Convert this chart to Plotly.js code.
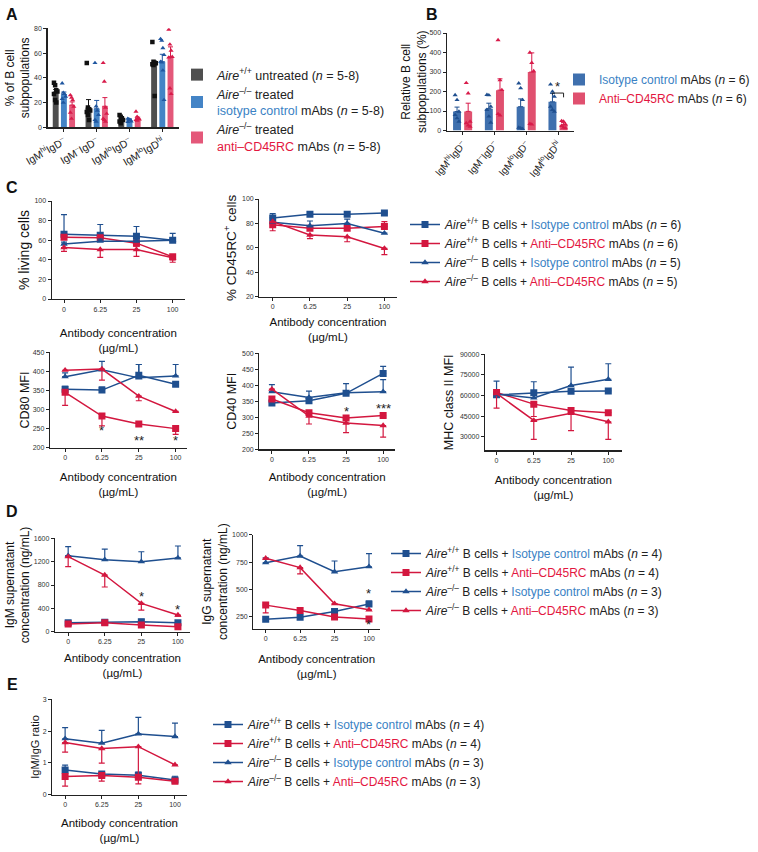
<!DOCTYPE html>
<html><head><meta charset="utf-8">
<script src="https://cdn.plot.ly/plotly-3.0.1.min.js"></script>
<style>html,body{margin:0;padding:0;background:#fff}#chart{width:758px;height:852px}</style>
</head><body><div id="chart"></div>
<script>
// ---------------- DATA ----------------
const subsetLabels = ['IgM<sup>hi</sup>IgD<sup>–</sup>', 'IgM<sup>–</sup>IgD<sup>–</sup>', 'IgM<sup>lo</sup>IgD<sup>–</sup>', 'IgM<sup>lo</sup>IgD<sup>hi</sup>'];
const concLabels = ['0', '6.25', '25', '100'];

// Panel A (% of B cell subpopulations)
const aUntreatedMean = [28.5, 16, 6.5, 52];
const aUntreatedSem  = [2, 6.4, 1.5, 1.6];
const aIsoMean       = [26.5, 15, 6, 53];
const aIsoSem        = [2, 6.7, 0.8, 6];
const aAntiMean      = [18, 17, 7, 57];
const aAntiSem       = [2.5, 7, 1.2, 8];
const aUntreatedPts  = [[36, 34, 30, 29, 27, 22, 20], [52, 16, 14.5, 13.5, 12.4, 10, 6], [10, 8.6, 7.3, 6, 4.6, 3.2], [69, 53, 52, 51.7, 51, 50.4, 25.3]];
const aIsoPts        = [[35.6, 28, 27, 24.8, 23, 20], [52, 17, 13.5, 10, 6, 4.6], [7, 6.5, 6, 4.8, 4.3], [71.4, 70, 64, 58.5, 53, 52.5, 46, 22.1]];
const aAntiPts       = [[26, 24, 22, 16.7, 11.9, 7], [52, 37, 16, 11, 7, 6, 4.5], [12.7, 8.6, 7.3, 6.5, 6, 5.4], [79, 67, 62, 57, 56.5, 31.5, 27]];

// Panel B (relative B cell subpopulations, %)
const bIsoMean  = [97, 112, 122, 147];
const bIsoSem   = [23, 28, 40, 43];
const bAntiMean = [98, 207, 300, 30];
const bAntiSem  = [42, 58, 98, 10];
const bIsoPts   = [[182, 157, 97, 80, 63, 46], [183, 181, 123, 106, 72, 41], [242, 217, 157, 15, 12, 8], [236, 200, 174, 123, 106, 97]];
const bAntiPts  = [[244, 191, 46, 38, 26, 20], [464, 259, 208, 85, 78], [400, 347, 305, 34, 31], [49, 46, 32, 24, 15, 12]];

// Series order in line panels: Aire+/+ iso, Aire+/+ anti, Aire-/- iso, Aire-/- anti
const livingMean = [[66, 65, 64, 60], [63, 62.5, 57, 43], [56, 59, 59, 60], [52.5, 50.5, 50.5, 42]];
const livingUp   = [[20, 11, 10, 7], [1, 1, 1, 1], [2, 2, 2, 2], [0, 0, 0, 0]];
const livingDn   = [[0, 0, 0, 0], [2, 2, 3, 3], [0, 0, 0, 0], [4, 8, 7, 4.5]];

const cd45Mean = [[84.5, 87.5, 87.5, 88.5], [79, 76, 76, 77.5], [81, 78, 80, 72], [81.5, 70.5, 69, 59.5]];
const cd45Up   = [[3.5, 2, 2, 1], [0, 0, 0, 4], [0, 4, 3.5, 0], [0, 0, 0, 0]];
const cd45Dn   = [[0, 0, 0, 0], [5, 0, 0, 0], [0, 0, 0, 0], [0, 3, 4, 5]];

const cd80Mean = [[353, 351, 390, 366], [345, 283, 262, 250], [386, 404, 383, 388], [403, 406, 335, 295]];
const cd80Up   = [[8, 8, 28, 5], [0, 0, 4, 0], [10, 22, 35, 30], [0, 0, 0, 0]];
const cd80Dn   = [[8, 5, 8, 5], [34, 26, 5, 15], [0, 0, 0, 0], [0, 29, 12, 0]];

const cd40Mean = [[345, 352, 375, 437], [357, 314, 298, 306], [380, 362, 377, 380], [388, 304, 282, 274]];
const cd40Up   = [[0, 0, 0, 22], [0, 0, 0, 0], [22, 20, 28, 38], [0, 0, 0, 0]];
const cd40Dn   = [[0, 0, 0, 0], [5, 5, 5, 5], [0, 0, 0, 0], [0, 25, 30, 36]];

const mhcMean = [[60500, 62000, 63000, 63300], [62200, 53700, 49000, 47500], [61000, 58200, 67200, 71800], [61500, 41800, 47000, 40800]];
const mhcUp   = [[10000, 8000, 0, 0], [0, 0, 0, 0], [0, 0, 13500, 11300], [0, 0, 0, 0]];
const mhcDn   = [[0, 0, 0, 0], [11400, 9000, 0, 0], [0, 0, 0, 0], [0, 13800, 12600, 12800]];

const igmMean = [[154, 160, 171, 154], [131, 154, 114, 86], [1303, 1234, 1200, 1263], [1285, 971, 485, 286]];
const igmUp   = [[30, 30, 40, 30], [0, 0, 0, 0], [153, 180, 170, 205], [0, 0, 0, 0]];
const igmDn   = [[0, 0, 0, 0], [20, 20, 20, 20], [0, 0, 0, 0], [170, 205, 115, 20]];

const iggMean = [[229, 247, 299, 369], [358, 308, 250, 232], [745, 805, 662, 708], [785, 700, 371, 315]];
const iggUp   = [[0, 0, 20, 25], [0, 0, 0, 0], [45, 95, 98, 120], [0, 0, 0, 0]];
const iggDn   = [[0, 0, 0, 0], [70, 0, 10, 0], [0, 0, 0, 0], [0, 58, 0, 0]];

const ratioMean = [[0.78, 0.65, 0.61, 0.46], [0.57, 0.6, 0.55, 0.42], [1.76, 1.62, 1.91, 1.83], [1.64, 1.45, 1.51, 0.94]];
const ratioUp   = [[0.15, 0.05, 0.1, 0.12], [0, 0, 0, 0], [0.35, 0.4, 0.52, 0.42], [0, 0, 0, 0]];
const ratioDn   = [[0, 0, 0, 0], [0.3, 0.17, 0.21, 0.04], [0, 0, 0, 0], [0.3, 0.46, 0.91, 0]];

const nC = [6, 6, 5, 5];
const nD = [4, 4, 3, 3];
const nE = [4, 4, 3, 3];

// significance marks: [concentration index, value level, label]
const sigCD80 = [[1, 244, '*'], [2, 218, '**'], [3, 218, '*']];
const sigCD40 = [[2, 318, '*'], [3, 326, '***']];
const sigIgM  = [[2, 600, '*'], [3, 388, '*']];
const sigIgG  = [[3, 462, '*'], [3, 180, '*']];
const sigB    = [[3, 228, '*']];

// ---------------- STYLE ----------------
const FONT = 'Liberation Sans, Arial, Helvetica, sans-serif';
const W = 758, H = 852;
const BLUE = '#1f4f8f', RED = '#d3173f';
const BLUE_TXT = '#3a82c4', RED_TXT = '#e3173f';
const styles = [
  {color: BLUE, symbol: 'square', size: 7},
  {color: RED, symbol: 'square', size: 7},
  {color: BLUE, symbol: 'triangle-up', size: 6.5},
  {color: RED, symbol: 'triangle-up', size: 6.5}
];
const genos = ['<i>Aire</i><sup>+/+</sup>', '<i>Aire</i><sup>+/+</sup>', '<i>Aire</i><sup>–/–</sup>', '<i>Aire</i><sup>–/–</sup>'];
const treats = [
  `<span style="color:${BLUE_TXT}">Isotype control</span>`,
  `<span style="color:${RED_TXT}">Anti–CD45RC</span>`,
  `<span style="color:${BLUE_TXT}">Isotype control</span>`,
  `<span style="color:${RED_TXT}">Anti–CD45RC</span>`
];
const seriesName = (i, n) => `${genos[i]} B cells + ${treats[i]} mAbs (<i>n</i> = ${n[i]})`;

const xd = (l, r) => [l / W, r / W];
const yd = (t, b) => [1 - b / H, 1 - t / H];

const axBase = {
  showline: true, linecolor: '#222', linewidth: 1.2, ticks: 'outside', ticklen: 3, tickwidth: 1,
  tickcolor: '#222', showgrid: false, zeroline: false, fixedrange: true, automargin: true,
  tickfont: {size: 7, color: '#333', family: FONT}
};
const xTitle = (so) => ({text: 'Antibody concentration<br>(µg/mL)', font: {size: 11.5, family: FONT, color: '#111'}, standoff: so});

const traces = [];
const layout = {
  width: W, height: H, margin: {l: 0, r: 0, t: 0, b: 0, autoexpand: false}, paper_bgcolor: '#fff', plot_bgcolor: 'rgba(0,0,0,0)',
  font: {family: FONT, color: '#111'}, barmode: 'overlay', showlegend: true, annotations: [], shapes: []
};

// ---------------- PANEL A ----------------
const aIdx = subsetLabels.map((_, i) => i);
const aGroups = [
  {mean: aUntreatedMean, sem: aUntreatedSem, pts: aUntreatedPts, fill: '#4f4f4f', dot: '#111', sym: 'square', off: -0.25,
   name: '<i>Aire</i><sup>+/+</sup> untreated (<i>n</i> = 5-8)'},
  {mean: aIsoMean, sem: aIsoSem, pts: aIsoPts, fill: '#4484c6', dot: '#1f56a0', sym: 'triangle-up', off: 0,
   name: `<i>Aire</i><sup>–/–</sup> treated<br><span style="color:${BLUE_TXT}">isotype control</span> mAbs (<i>n</i> = 5-8)`},
  {mean: aAntiMean, sem: aAntiSem, pts: aAntiPts, fill: '#e4587a', dot: '#d81b4a', sym: 'triangle-up', off: 0.25,
   name: `<i>Aire</i><sup>–/–</sup> treated<br><span style="color:${RED_TXT}">anti–CD45RC</span> mAbs (<i>n</i> = 5-8)`}
];
const aBarW = 0.18;
aGroups.forEach(g => {
  traces.push({type: 'bar', x: aIdx, y: g.mean, xaxis: 'x', yaxis: 'y', offset: g.off - aBarW / 2, width: aBarW,
    marker: {color: g.fill, line: {width: 0}}, name: g.name, legend: 'legend',
    error_y: {type: 'data', symmetric: false, array: g.sem, arrayminus: g.sem.map(() => 0), color: g.dot, thickness: 1, width: 2.5}});
  const xs = [], ys = [];
  g.pts.forEach((arr, i) => arr.forEach((v, k) => { xs.push(i + g.off + ((k % 4) - 1.5) * 0.035); ys.push(v); }));
  traces.push({type: 'scatter', mode: 'markers', x: xs, y: ys, xaxis: 'x', yaxis: 'y', showlegend: false,
    marker: {color: g.dot, symbol: g.sym, size: 4.5}});
});
layout.xaxis = Object.assign({}, axBase, {domain: xd(47.5, 178.7), anchor: 'y', range: [-0.5, 3.5],
  tickmode: 'array', tickvals: aIdx, ticktext: subsetLabels, tickangle: -30,
  tickfont: {size: 10.5, color: '#222', family: FONT}});
layout.yaxis = Object.assign({}, axBase, {domain: yd(28.3, 127.3), anchor: 'x', range: [0, 80], dtick: 20,
  title: {text: '% of B cell<br>subpopulations', font: {size: 12, family: FONT}, standoff: 1}});

// ---------------- PANEL B ----------------
const bBarW = 0.25;
const bGroups = [
  {mean: bIsoMean, sem: bIsoSem, pts: bIsoPts, fill: '#3f70ae', dot: '#1f4f8f', off: -0.175,
   name: `<span style="color:${BLUE_TXT}">Isotype control</span> mAbs (<i>n</i> = 6)`},
  {mean: bAntiMean, sem: bAntiSem, pts: bAntiPts, fill: '#e0506f', dot: '#d81b4a', off: 0.175,
   name: `<span style="color:${RED_TXT}">Anti–CD45RC</span> mAbs (<i>n</i> = 6)`}
];
bGroups.forEach(g => {
  traces.push({type: 'bar', x: aIdx, y: g.mean, xaxis: 'x2', yaxis: 'y2', offset: g.off - bBarW / 2, width: bBarW,
    marker: {color: g.fill, line: {width: 0}}, name: g.name, legend: 'legend5',
    error_y: {type: 'data', symmetric: false, array: g.sem, arrayminus: g.sem.map(() => 0), color: g.dot, thickness: 1, width: 2.5}});
  const xs = [], ys = [];
  g.pts.forEach((arr, i) => arr.forEach((v, k) => { xs.push(i + g.off + ((k % 3) - 1) * 0.06); ys.push(v); }));
  traces.push({type: 'scatter', mode: 'markers', x: xs, y: ys, xaxis: 'x2', yaxis: 'y2', showlegend: false,
    marker: {color: g.dot, symbol: 'triangle-up', size: 4.5}});
});
layout.xaxis2 = Object.assign({}, axBase, {domain: xd(446.7, 573.9), anchor: 'y2', range: [-0.5, 3.5],
  tickmode: 'array', tickvals: aIdx, ticktext: subsetLabels, tickangle: -50,
  tickfont: {size: 10, color: '#222', family: FONT}});
layout.yaxis2 = Object.assign({}, axBase, {domain: yd(33, 130.5), anchor: 'x2', range: [0, 500], dtick: 100,
  title: {text: 'Relative B cell<br>subpopulations (%)', font: {size: 12, family: FONT}, standoff: 0}});
// bracket + star for B
sigB.forEach(([i, lvl, txt]) => {
  const x0 = i + bGroups[0].off, x1 = i + bGroups[1].off;
  const top = lvl - 36, foot = lvl - 58;
  layout.shapes.push({type: 'path', xref: 'x2', yref: 'y2', path: `M${x0},${top - 8} L${x0},${top} L${x1},${top} L${x1},${foot}`,
    line: {color: '#222', width: 1}});
  layout.annotations.push({xref: 'x2', yref: 'y2', x: i, y: lvl, text: txt, showarrow: false, font: {size: 13, color: '#222'}});
});

// ---------------- LINE PANELS ----------------
const concIdx = concLabels.map((_, i) => i);
function addLinePanel(n, means, ups, dns, legendId, ns) {
  const xa = 'x' + n, ya = 'y' + n;
  means.forEach((m, i) => {
    const s = styles[i];
    traces.push({type: 'scatter', mode: 'lines+markers', x: concIdx, y: m, xaxis: xa, yaxis: ya,
      name: ns ? seriesName(i, ns) : 'series ' + (i + 1), legend: legendId || 'legend', showlegend: !!legendId,
      line: {color: s.color, width: 1.5}, marker: {symbol: s.symbol, size: s.size, color: s.color},
      error_y: {type: 'data', symmetric: false, array: ups[i], arrayminus: dns[i], color: s.color, thickness: 1.2, width: 3}});
  });
}
function concAxes(n, xl, xr, xrange, yt, yb, yrange, ytitle, xso, extra) {
  layout['xaxis' + n] = Object.assign({}, axBase, {domain: xd(xl, xr), anchor: 'y' + n, range: xrange,
    tickmode: 'array', tickvals: concIdx, ticktext: concLabels, title: xTitle(xso)});
  layout['yaxis' + n] = Object.assign({}, axBase, {domain: yd(yt, yb), anchor: 'x' + n, range: yrange,
    title: ytitle}, extra || {});
}
function addSig(n, list) {
  list.forEach(([i, lvl, txt]) => layout.annotations.push({xref: 'x' + n, yref: 'y' + n, x: i, y: lvl, text: txt,
    showarrow: false, font: {size: 13, color: '#222'}}));
}
const yT = (t, s, so) => ({text: t, font: {size: s || 12, family: FONT}, standoff: so});

// C: % living cells
addLinePanel(3, livingMean, livingUp, livingDn, 'legend2', nC);
concAxes(3, 51.7, 185, [-0.34, 3.34], 201, 299, [0, 100], yT('% living cells', 14, 1), 17, {dtick: 20});
// C: % CD45RC+ cells
addLinePanel(4, cd45Mean, cd45Up, cd45Dn);
concAxes(4, 259.3, 396.7, [-0.36, 3.33], 199, 296.7, [20, 100], yT('% CD45RC<sup>+</sup> cells', 13.5, 2), 8, {dtick: 20});
// C: CD80 MFI
addLinePanel(5, cd80Mean, cd80Up, cd80Dn);
concAxes(5, 50, 186.7, [-0.41, 3.3], 352.3, 447.7, [200, 450], yT('CD80 MFI', 12.5, 0), 12, {dtick: 50});
addSig(5, sigCD80);
// C: CD40 MFI
addLinePanel(6, cd40Mean, cd40Up, cd40Dn);
concAxes(6, 259.3, 395, [-0.34, 3.32], 353.3, 449.3, [200, 500], yT('CD40 MFI', 12.5, 2), 11, {dtick: 50});
addSig(6, sigCD40);
// C: MHC class II MFI
addLinePanel(7, mhcMean, mhcUp, mhcDn);
concAxes(7, 485, 621.7, [-0.31, 3.36], 354.3, 450.4, [20000, 90000], yT('MHC class II MFI', 12.5, 3), 13, {tickmode: 'array', tickvals: [30000, 45000, 60000, 75000, 90000], tickformat: 'd'});
// D: IgM
addLinePanel(8, igmMean, igmUp, igmDn, 'legend3', nD);
concAxes(8, 55, 190, [-0.36, 3.33], 538.3, 631.7, [0, 1600], yT('IgM supernatant<br>concentration (ng/mL)', 12, 1), 9, {dtick: 400});
addSig(8, sigIgM);
// D: IgG
addLinePanel(9, iggMean, iggUp, iggDn);
concAxes(9, 253.3, 380, [-0.36, 3.32], 534.7, 628.7, [143, 1000], yT('IgG supernatant<br>concentration (ng/mL)', 12, 2), 13, {tickmode: 'array', tickvals: [250, 500, 750, 1000]});
addSig(9, sigIgG);
// E: ratio
addLinePanel(10, ratioMean, ratioUp, ratioDn, 'legend4', nE);
concAxes(10, 52.3, 186.7, [-0.35, 3.32], 699.3, 794.7, [0, 3], yT('IgM/IgG ratio', 11, 1), 11, {dtick: 1});

// ---------------- LEGENDS ----------------
const legBase = {xanchor: 'left', yanchor: 'top', bgcolor: 'rgba(0,0,0,0)', borderwidth: 0, itemclick: false, itemdoubleclick: false,
  font: {size: 12, family: FONT, color: '#222'}, tracegroupgap: 0, valign: 'middle'};
layout.legend = Object.assign({}, legBase, {x: 177 / W, y: 1 - 60 / H, font: {size: 12.5, family: FONT, color: '#222'}});
layout.legend2 = Object.assign({}, legBase, {x: 405 / W, y: 1 - 210 / H});
layout.legend3 = Object.assign({}, legBase, {x: 386 / W, y: 1 - 539 / H});
layout.legend4 = Object.assign({}, legBase, {x: 208 / W, y: 1 - 710 / H});
layout.legend5 = Object.assign({}, legBase, {x: 559 / W, y: 1 - 65 / H});

// ---------------- PANEL LETTERS ----------------
[['A', 12, 14], ['B', 432, 15], ['C', 12, 187], ['D', 12, 511], ['E', 12, 684]].forEach(([t, x, y]) => {
  layout.annotations.push({xref: 'paper', yref: 'paper', x: x / W, y: 1 - y / H, text: '<b>' + t + '</b>', showarrow: false,
    xanchor: 'center', yanchor: 'middle', font: {size: 16, family: FONT, color: '#111'}});
});

Plotly.newPlot('chart', traces, layout, {displayModeBar: false, staticPlot: true});
</script>
</body></html>
